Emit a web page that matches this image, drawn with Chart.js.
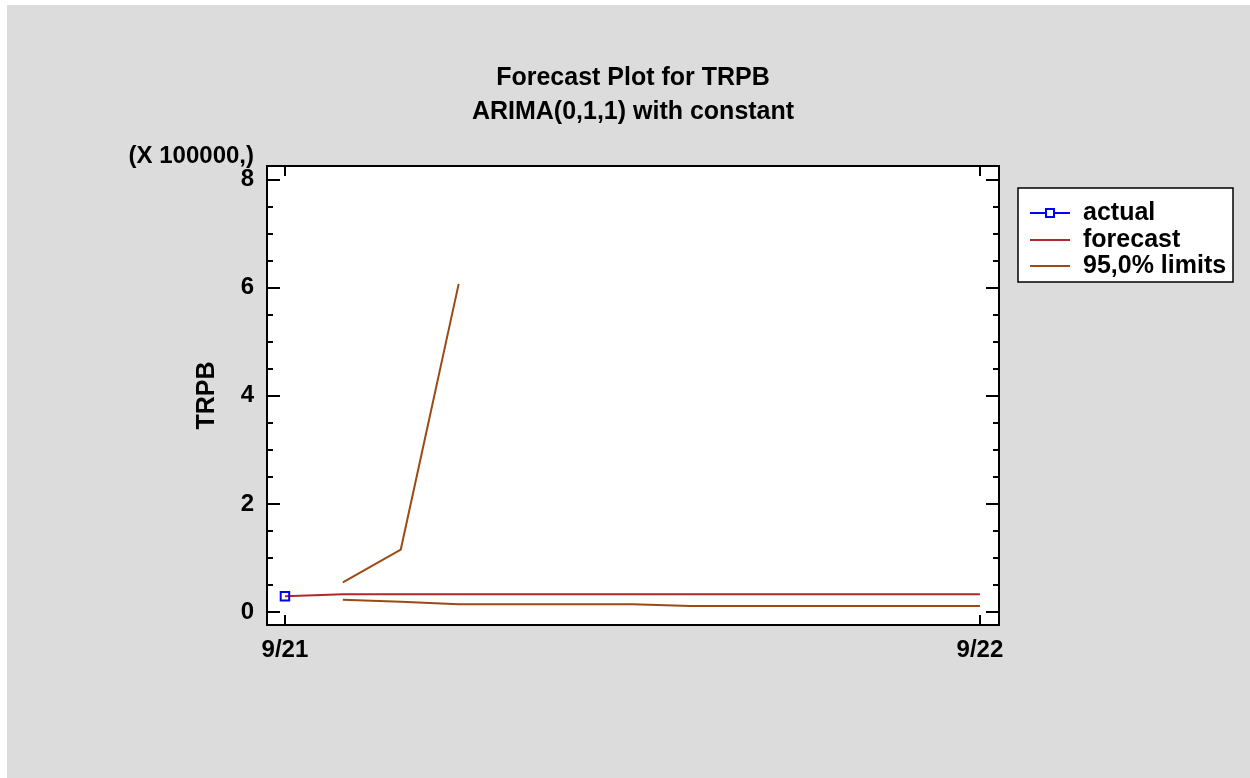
<!DOCTYPE html>
<html>
<head>
<meta charset="utf-8">
<script src="https://cdn.jsdelivr.net/npm/chart.js@4/dist/chart.umd.min.js"></script>
<style>
  body { margin: 0; background: #fff; }
  #wrap { width: 1250px; height: 778px; }
</style>
</head>
<body>
<div id="wrap"><canvas id="myChart" width="1250" height="778"></canvas></div>
<script>
// forecast periods between 9/21 and 9/22
let periods = [0, 1, 2, 3, 4, 5, 6, 7, 8, 9, 10, 11, 12];
let actualValues = [0.29];
let forecastValues = [0.29, 0.33, 0.33, 0.33, 0.33, 0.33, 0.33, 0.33, 0.33, 0.33, 0.33, 0.33, 0.33];
let upperLimits = [null, 0.55, 1.155, 6.07, null, null, null, null, null, null, null, null, null];
let lowerLimits = [null, 0.225, 0.19, 0.145, 0.145, 0.145, 0.145, 0.11, 0.11, 0.11, 0.11, 0.11, 0.11];
let xTickValues = [0, 12];
let xTickLabels = ['9/21', '9/22'];
let yTickValues = [0, 2, 4, 6, 8];
let yMinorValues = [0, 0.5, 1, 1.5, 2, 2.5, 3, 3.5, 4, 4.5, 5, 5.5, 6, 6.5, 7, 7.5, 8];

let FONT = "'Liberation Sans', Arial, sans-serif";
Chart.defaults.font.family = FONT;

function toPoints(values) {
  return values.map((v, i) => ({ x: periods[i], y: v }));
}

let decor = {
  id: 'decor',
  beforeDraw(chart) {
    let c = chart.ctx, a = chart.chartArea;
    c.save();
    c.fillStyle = '#ffffff';
    c.fillRect(0, 0, chart.width, chart.height);
    c.fillStyle = '#dcdcdc';
    c.fillRect(7, 5, chart.width - 7, chart.height - 5);
    c.fillStyle = '#ffffff';
    c.fillRect(a.left, a.top, a.right - a.left, a.bottom - a.top);
    c.restore();
  },
  afterDraw(chart) {
    let c = chart.ctx, a = chart.chartArea;
    let xs = chart.scales.x, ys = chart.scales.y;
    c.save();
    c.strokeStyle = '#000';
    c.lineWidth = 2;
    c.strokeRect(a.left, a.top, a.right - a.left, a.bottom - a.top);

    // inward ticks
    c.beginPath();
    yMinorValues.forEach(v => {
      let y = Math.round(ys.getPixelForValue(v));
      let len = yTickValues.includes(v) ? 13 : 6;
      c.moveTo(a.left, y); c.lineTo(a.left + len, y);
      c.moveTo(a.right, y); c.lineTo(a.right - len, y);
    });
    xTickValues.forEach(v => {
      let x = Math.round(xs.getPixelForValue(v));
      c.moveTo(x, a.bottom); c.lineTo(x, a.bottom - 10);
      c.moveTo(x, a.top); c.lineTo(x, a.top + 10);
    });
    c.stroke();

    // titles
    c.fillStyle = '#000';
    c.textAlign = 'center';
    c.textBaseline = 'middle';
    c.font = 'bold 25px ' + FONT;
    let cx = (a.left + a.right) / 2;
    c.fillText('Forecast Plot for TRPB', cx, 78);
    c.fillText('ARIMA(0,1,1) with constant', cx, 112);

    c.font = 'bold 24px ' + FONT;
    c.textAlign = 'right';
    c.fillText('(X 100000,)', 254, 156);

    c.font = 'bold 25px ' + FONT;
    c.save();
    c.translate(207, (a.top + a.bottom) / 2);
    c.rotate(-Math.PI / 2);
    c.textAlign = 'center';
    c.fillText('TRPB', 0, 0);
    c.restore();

    // legend
    c.fillStyle = '#fff';
    c.fillRect(1018, 188, 215, 94);
    c.lineWidth = 1.5;
    c.strokeStyle = '#000';
    c.strokeRect(1018, 188, 215, 94);
    let rows = [213, 240, 266];
    chart.data.datasets.forEach((ds, i) => {
      if (i > 2) return;
      let y = rows[i];
      c.strokeStyle = ds.borderColor;
      c.lineWidth = 2;
      c.beginPath();
      c.moveTo(1030, y); c.lineTo(1070, y);
      c.stroke();
      if (i === 0) {
        c.fillStyle = '#fff';
        c.fillRect(1046, y - 4, 8, 8);
        c.strokeRect(1046, y - 4, 8, 8);
      }
      c.fillStyle = '#000';
      c.textAlign = 'left';
      c.font = 'bold 25px ' + FONT;
      c.fillText(ds.label, 1083, y);
    });
    c.restore();
  }
};

let ctx = document.getElementById('myChart').getContext('2d');
let myChart = new Chart(ctx, {
  type: 'line',
  data: {
    datasets: [{
      label: 'actual',
      data: toPoints(actualValues),
      borderColor: '#0000ff',
      backgroundColor: 'rgba(0,0,0,0)',
      pointStyle: 'rect',
      pointRadius: 6,
      pointBorderWidth: 2,
      showLine: false,
      order: 0
    }, {
      label: 'forecast',
      data: toPoints(forecastValues),
      borderColor: '#b0282c',
      borderWidth: 2,
      pointRadius: 0,
      tension: 0,
      order: 1
    }, {
      label: '95,0% limits',
      data: toPoints(upperLimits),
      borderColor: '#9c4a14',
      borderWidth: 2,
      pointRadius: 0,
      tension: 0,
      order: 2
    }, {
      label: 'lower',
      data: toPoints(lowerLimits),
      borderColor: '#9c4a14',
      borderWidth: 2,
      pointRadius: 0,
      tension: 0,
      order: 2
    }]
  },
  options: {
    responsive: false,
    animation: false,
    layout: { padding: { left: 0, top: 166, right: 251, bottom: 0 } },
    plugins: {
      legend: { display: false },
      tooltip: { enabled: false }
    },
    scales: {
      x: {
        type: 'linear',
        min: -0.31,
        max: 12.33,
        grid: { display: false, drawTicks: false },
        border: { display: false },
        afterFit: (scale) => { scale.height = 153; },
        afterBuildTicks: (scale) => { scale.ticks = xTickValues.map(v => ({ value: v })); },
        ticks: {
          padding: 11,
          color: '#000',
          font: { size: 24, weight: 'bold' },
          maxRotation: 0,
          autoSkip: false,
          callback: (value) => xTickLabels[xTickValues.indexOf(value)]
        }
      },
      y: {
        min: -0.24,
        max: 8.25,
        grid: { display: false, drawTicks: false },
        border: { display: false },
        afterFit: (scale) => { scale.width = 267; },
        afterBuildTicks: (scale) => { scale.ticks = yTickValues.map(v => ({ value: v })); },
        ticks: {
          padding: 13,
          color: '#000',
          font: { size: 24, weight: 'bold' }
        }
      }
    }
  },
  plugins: [decor]
});
</script>
</body>
</html>
